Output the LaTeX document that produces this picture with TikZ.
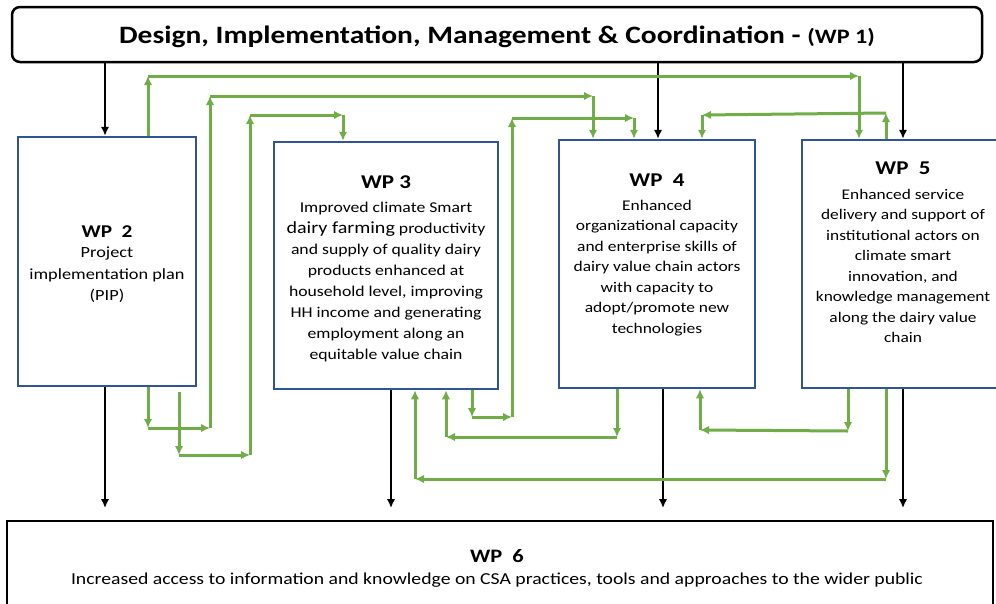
\documentclass[tikz,border=0pt]{standalone}
\usepackage{fontspec}
\setmainfont{Carlito}[FakeStretch=1.18]
\usepackage{xcolor}
\usepackage{tikz}
\usetikzlibrary{calc}
\usetikzlibrary{arrows.meta}
\usetikzlibrary{positioning}
\definecolor{wpblue}{RGB}{47,85,151}
\definecolor{wpgreen}{RGB}{112,173,71}
\tikzset{>={Latex[length=9pt,width=8.5pt]}}
\tikzstyle{wp} = [rectangle, draw = wpblue, line width = 2.5pt, inner sep = 0]
\tikzstyle{flow} = [->, draw = wpgreen, line width = 3pt]
\tikzstyle{feed} = [->, draw = black, line width = 2.5pt]
\tikzstyle{body} = [draw = none, align = center, inner sep = 0, anchor = north]

\begin{document}
\begin{tikzpicture}[x = 1pt, y = -1pt]
\clip (0, 0) rectangle (996, 603);
\useasboundingbox (0, 0) rectangle (996, 603);
\fill [white] (0, 0) rectangle (996, 603);

% boxes
\node [rectangle, draw = black, line width = 2.5pt, rounded corners = 8pt, minimum width = 970pt, minimum height = 55pt] (WP1) at (497, 34.5) {};
\node [wp, minimum width = 178pt, minimum height = 249pt] (WP2) at (107, 261.5) {};
\node [wp, minimum width = 224pt, minimum height = 247pt] (WP3) at (386, 265.5) {};
\node [wp, minimum width = 196pt, minimum height = 248pt] (WP4) at (657, 264) {};
\node [wp, minimum width = 196pt, minimum height = 248pt] (WP5) at (900, 264) {};
\node [rectangle, draw = black, line width = 2.5pt, minimum width = 986pt, minimum height = 100pt] (WP6) at (500, 571) {};

% texts
\node [draw = none, inner sep = 0, font = \fontsize{25}{28}\selectfont\bfseries] (T1) at (497, 37) {Design, Implementation, Management \& Coordination - {\fontsize{20.5}{22}\selectfont(WP 1)}};
\node [body, font = \fontsize{15.5}{21.5}\selectfont] (T2) at (107, 225) {{\fontsize{18}{21}\selectfont\bfseries WP\ \ 2}\\[-1pt] Project\\ implementation plan\\ (PIP)};
\node [body, font = \fontsize{15}{21}\selectfont] (T3) at (386, 176) {{\fontsize{19.5}{21}\selectfont\bfseries WP 3}\\[2.5pt] Improved climate Smart\\ {\fontsize{17}{21}\selectfont dairy farming} productivity\\ and supply of quality dairy\\ products enhanced at\\ household level, improving\\ HH income and generating\\ employment along an\\ equitable value chain};
\node [body, font = \fontsize{14.8}{20.5}\selectfont] (T4) at (657, 174) {{\fontsize{19.5}{21}\selectfont\bfseries WP\ \ 4}\\[3pt] Enhanced\\ organizational capacity\\ and enterprise skills of\\ dairy value chain actors\\ with capacity to\\ adopt/promote new\\ technologies};
\node [body, font = \fontsize{14.7}{20.5}\selectfont] (T5) at (903, 162) {{\fontsize{19.5}{21}\selectfont\bfseries WP\ \ 5}\\[4pt] Enhanced service\\ delivery and support of\\ institutional actors on\\ climate smart\\ innovation, and\\ knowledge management\\ along the dairy value\\ chain};
\node [body, font = \fontsize{16.7}{22}\selectfont] (T6) at (497, 549) {{\fontsize{19}{22}\selectfont\bfseries WP\ \ 6}\\[0pt] Increased access to information and knowledge on CSA practices, tools and approaches to the wider public};

% black links
\coordinate (k2) at (105, 508);
\coordinate (k3) at (391, 508);
\coordinate (k4) at (663, 508);
\coordinate (k5) at (903, 508);
\coordinate (j4) at (658, 0);
\draw [feed] (WP1.south -| k2) -- (WP2.north -| k2);
\draw [feed] (WP1.south -| j4) -- (WP4.north -| j4);
\draw [feed] (WP1.south -| k5) -- (WP5.north -| k5);
\draw [feed] (WP2.south -| k2) -- (k2);
\draw [feed] (WP3.south -| k3) -- (k3);
\draw [feed] (WP4.south -| k4) -- (k4);
\draw [feed] (WP5.south -| k5) -- (k5);

% green links, top
\coordinate (a1) at (148, 76);
\coordinate (a2) at (859, 76);
\draw [flow] (WP2.north -| a1) -- (a1);
\draw [flow] (a1) -- (a2);
\draw [flow] (a2) -- (WP5.north -| a2);

\coordinate (b1) at (148, 428);
\coordinate (b2) at (210, 428);
\coordinate (b3) at (210, 96);
\coordinate (b4) at (593, 96);
\draw [flow] (WP2.south -| b1) -- (b1);
\draw [flow] (b1) -- (b2);
\draw [flow] (b2) -- (b3);
\draw [flow] (b3) -- (b4);
\draw [flow] (b4) -- (WP4.north -| b4);

\coordinate (c0) at (179, 392);
\coordinate (c1) at (179, 455);
\coordinate (c2) at (250, 455);
\coordinate (c3) at (250, 115);
\coordinate (c4) at (343, 115);
\draw [flow] (c0) -- (c1);
\draw [flow] (c1) -- (c2);
\draw [flow] (c2) -- (c3);
\draw [flow] (c3) -- (c4);
\draw [flow] (c4) -- (WP3.north -| c4);

\coordinate (d1) at (472, 417);
\coordinate (d2) at (512, 417);
\coordinate (d3) at (512, 118);
\coordinate (d4) at (634, 118);
\draw [flow] (WP3.south -| d1) -- (d1);
\draw [flow] (d1) -- (d2);
\draw [flow] (d2) -- (d3);
\draw [flow] (d3) -- (d4);
\draw [flow] (d4) -- (WP4.north -| d4);

\coordinate (e1) at (886, 113);
\coordinate (e2) at (702, 115);
\draw [flow] (WP5.north -| e1) -- (e1);
\draw [flow] (e1) -- (e2);
\draw [flow] (e2) -- (WP4.north -| e2);

% green links, bottom
\coordinate (f1) at (617, 437);
\coordinate (f2) at (446, 437);
\draw [flow] (WP4.south -| f1) -- (f1);
\draw [flow] (f1) -- (f2);
\draw [flow] (f2) -- (WP3.south -| f2);

\coordinate (g1) at (848, 431);
\coordinate (g2) at (700, 430);
\draw [flow] (WP5.south -| g1) -- (g1);
\draw [flow] (g1) -- (g2);
\draw [flow] (g2) -- (WP4.south -| g2);

\coordinate (h1) at (886, 479);
\coordinate (h2) at (415, 479);
\draw [flow] (WP5.south -| h1) -- (h1);
\draw [flow] (h1) -- (h2);
\draw [flow] (h2) -- (WP3.south -| h2);
\end{tikzpicture}
\end{document}
